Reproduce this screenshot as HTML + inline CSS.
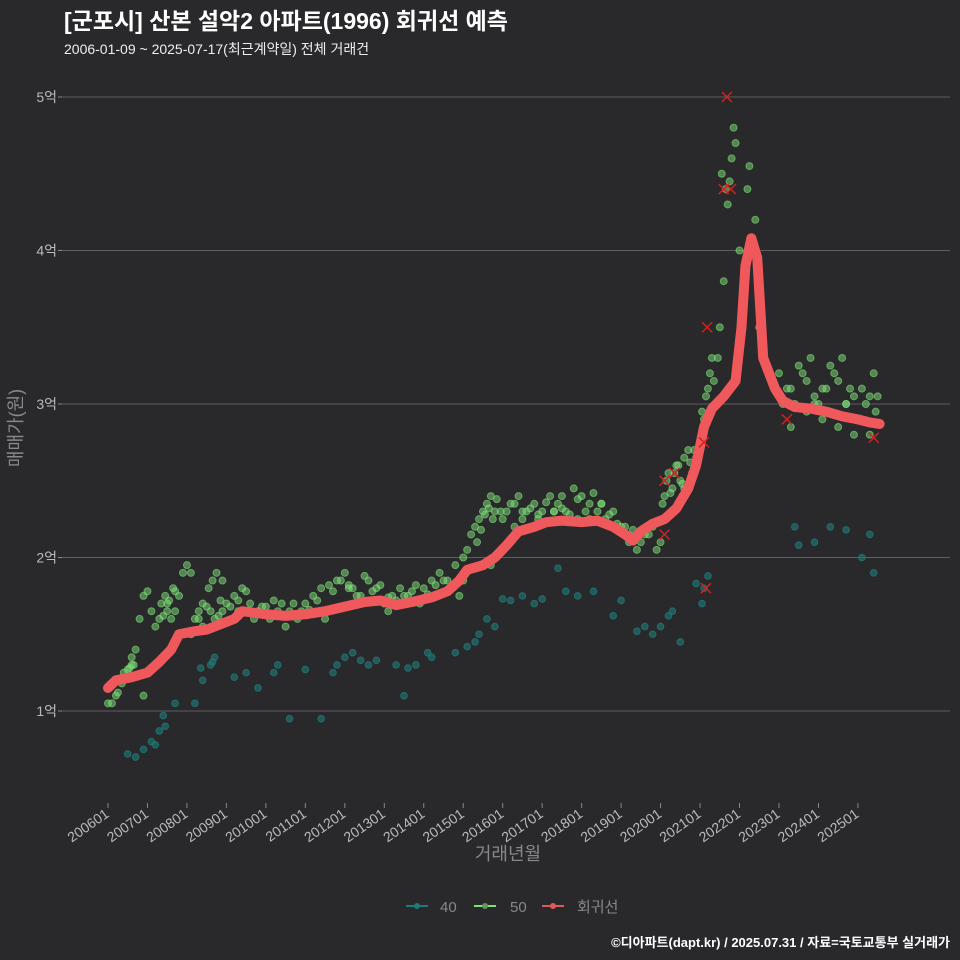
<!DOCTYPE html>
<html><head><meta charset="utf-8"><style>
body{margin:0;background:#29282a;}
svg{display:block;font-family:"Liberation Sans","Noto Sans CJK KR",sans-serif;}
</style></head><body>
<svg id="c" width="960" height="960">
<rect width="960" height="960" fill="#29282a"/>
<text x="64" y="29" fill="#fff" font-size="23" font-weight="bold">[군포시] 산본 설악2 아파트(1996) 회귀선 예측</text>
<text x="64" y="54" fill="#eee" font-size="14">2006-01-09 ~ 2025-07-17(최근계약일) 전체 거래건</text>
<g id="grid"></g><g id="pts"></g><g id="reg"></g><g id="xs"></g><g id="xax"></g>
<text transform="translate(22,428) rotate(-90)" text-anchor="middle" fill="#888" font-size="18">매매가(원)</text>
<text x="508" y="860" text-anchor="middle" fill="#888" font-size="18">거래년월</text>
<g>
<g><line x1="406" y1="906" x2="428" y2="906" stroke="#1f7a78" stroke-width="2"/><circle cx="417" cy="906" r="3" fill="#1f7a78"/><text x="440" y="912" fill="#888" font-size="15">40</text></g>
<g><line x1="474" y1="906" x2="496" y2="906" stroke="#7ee07a" stroke-width="2"/><circle cx="485" cy="906" r="3" fill="#5f9a5a"/><text x="510" y="912" fill="#888" font-size="15">50</text></g>
<g><line x1="542" y1="906" x2="564" y2="906" stroke="#e05a5a" stroke-width="2"/><circle cx="553" cy="906" r="3" fill="#e05a5a"/><text x="577" y="912" fill="#888" font-size="15">회귀선</text></g>
</g>
<text x="950" y="947" text-anchor="end" fill="#fff" font-size="13" font-weight="bold">©디아파트(dapt.kr) / 2025.07.31 / 자료=국토교통부 실거래가</text>
</svg>
<script>
const yTicks=[1,2,3,4,5];
const xTickYears=[2006,2007,2008,2009,2010,2011,2012,2013,2014,2015,2016,2017,2018,2019,2020,2021,2022,2023,2024,2025];
const regT=[2006.0,2006.2,2006.6,2007.0,2007.3,2007.6,2007.8,2008.2,2008.5,2008.9,2009.2,2009.4,2010.0,2010.5,2011.0,2011.5,2012.0,2012.5,2012.9,2013.3,2013.7,2014.2,2014.6,2014.9,2015.1,2015.5,2015.8,2016.1,2016.4,2016.8,2017.1,2017.5,2018.0,2018.4,2018.8,2019.1,2019.3,2019.5,2019.8,2020.1,2020.4,2020.7,2020.9,2021.1,2021.3,2021.6,2021.9,2022.05,2022.15,2022.3,2022.45,2022.6,2022.9,2023.1,2023.4,2023.8,2024.2,2024.6,2025.0,2025.3,2025.55];
const regV=[1.15,1.2,1.22,1.25,1.32,1.4,1.5,1.52,1.53,1.57,1.6,1.65,1.63,1.62,1.63,1.65,1.68,1.71,1.72,1.69,1.71,1.74,1.78,1.85,1.92,1.95,2.0,2.08,2.17,2.2,2.23,2.24,2.23,2.24,2.2,2.15,2.11,2.17,2.22,2.25,2.32,2.45,2.6,2.85,2.97,3.05,3.15,3.5,3.9,4.08,3.95,3.3,3.1,3.02,2.98,2.97,2.95,2.92,2.9,2.88,2.87];
const t40=[2006.5,2006.7,2006.9,2007.1,2007.3,2007.4,2007.7,2008.2,2008.4,2008.6,2008.7,2009.5,2009.8,2010.3,2010.6,2011.0,2011.4,2011.7,2012.0,2012.4,2012.8,2013.3,2013.5,2013.8,2014.2,2014.8,2015.1,2015.4,2015.6,2016.0,2016.5,2017.0,2017.4,2017.9,2018.3,2019.0,2019.4,2019.8,2020.0,2020.3,2020.5,2020.9,2021.1,2021.2,2023.4,2023.5,2023.9,2024.3,2024.7,2025.1,2025.3,2025.4,2007.2,2007.45,2008.35,2008.65,2009.2,2010.2,2011.8,2012.2,2012.6,2013.6,2014.1,2015.3,2015.8,2016.2,2016.8,2017.6,2018.8,2019.6,2020.2,2021.05];
const v40=[0.72,0.7,0.75,0.8,0.87,0.97,1.05,1.05,1.2,1.3,1.35,1.25,1.15,1.3,0.95,1.27,0.95,1.25,1.35,1.33,1.33,1.3,1.1,1.3,1.35,1.38,1.42,1.5,1.6,1.73,1.75,1.73,1.93,1.75,1.78,1.72,1.52,1.5,1.55,1.65,1.45,1.83,1.8,1.88,2.2,2.08,2.1,2.2,2.18,2.0,2.15,1.9,0.78,0.9,1.28,1.32,1.22,1.25,1.3,1.38,1.3,1.28,1.38,1.45,1.55,1.72,1.7,1.78,1.62,1.55,1.62,1.7];
const t50=[2006.1,2006.2,2006.3,2006.4,2006.5,2006.6,2006.7,2006.8,2006.9,2007.0,2007.1,2007.2,2007.3,2007.4,2007.5,2007.6,2007.7,2007.8,2007.9,2008.0,2008.1,2008.2,2008.3,2008.4,2008.5,2008.6,2008.7,2008.8,2008.9,2009.0,2009.2,2009.4,2009.6,2009.8,2010.0,2010.2,2010.4,2010.6,2010.8,2011.0,2011.2,2011.4,2011.6,2011.8,2012.0,2012.2,2012.4,2012.6,2012.8,2013.0,2013.2,2013.4,2013.6,2013.8,2014.0,2014.2,2014.4,2014.6,2014.8,2015.0,2015.1,2015.2,2015.3,2015.4,2015.5,2015.6,2015.7,2015.8,2016.0,2016.2,2016.4,2016.6,2016.8,2017.0,2017.2,2017.4,2017.6,2017.8,2018.0,2018.2,2018.4,2018.6,2018.8,2019.0,2019.2,2019.4,2019.6,2019.8,2020.0,2020.1,2020.2,2020.3,2020.4,2020.5,2020.6,2020.7,2020.8,2020.9,2021.0,2021.1,2021.2,2021.3,2021.4,2021.5,2021.6,2021.7,2021.8,2021.9,2022.0,2022.2,2022.4,2023.0,2023.2,2023.4,2023.6,2023.8,2024.0,2024.2,2024.4,2024.6,2024.8,2025.0,2025.2,2025.4,2006.3,2006.6,2006.9,2007.2,2007.5,2008.1,2008.4,2008.9,2009.3,2010.1,2010.9,2011.5,2012.3,2013.1,2013.9,2014.5,2015.7,2016.3,2016.9,2017.3,2017.9,2018.5,2019.1,2019.7,2020.6,2021.45,2021.65,2021.85,2022.5,2023.3,2023.7,2024.1,2024.5,2024.9,2025.3,2006.0,2007.65,2008.3,2009.7,2010.5,2012.1,2013.5,2014.9,2016.5,2017.5,2018.2,2019.5,2021.55,2021.75,2022.25,2023.9,2024.7,2025.5,
2006.25,2006.35,2006.45,2006.55,2006.65,2007.35,2007.45,2007.55,2007.7,2008.55,2008.65,2008.75,2008.85,2009.1,2009.3,2009.5,2009.9,2010.3,2010.7,2011.1,2011.3,2011.7,2011.9,2012.1,2012.5,2012.7,2012.9,2013.1,2013.3,2013.7,2014.1,2014.3,2014.7,2015.0,2015.35,2015.45,2015.55,2015.65,2015.75,2015.85,2015.95,2016.1,2016.3,2016.5,2016.7,2016.9,2017.1,2017.3,2017.5,2017.7,2017.9,2018.1,2018.3,2018.5,2018.7,2018.9,2019.3,2019.9,2020.05,2020.15,2020.25,2020.35,2020.45,2020.55,2020.75,2020.85,2021.05,2021.15,2021.25,2021.35,2023.1,2023.3,2023.5,2023.7,2023.9,2024.1,2024.3,2024.5,2024.7,2024.9,2025.1,2025.3,2025.45];
const v50=[1.05,1.1,1.2,1.25,1.27,1.3,1.4,1.6,1.75,1.78,1.65,1.55,1.6,1.62,1.65,1.6,1.65,1.75,1.9,1.95,1.9,1.6,1.65,1.7,1.68,1.65,1.6,1.62,1.65,1.7,1.75,1.8,1.7,1.65,1.68,1.72,1.7,1.65,1.6,1.7,1.75,1.8,1.82,1.85,1.9,1.8,1.75,1.85,1.8,1.7,1.75,1.8,1.75,1.82,1.8,1.85,1.9,1.85,1.95,2.0,2.05,2.15,2.2,2.25,2.3,2.35,2.4,2.3,2.25,2.35,2.4,2.3,2.35,2.3,2.4,2.35,2.3,2.45,2.4,2.35,2.3,2.25,2.3,2.2,2.1,2.05,2.15,2.2,2.1,2.4,2.55,2.45,2.6,2.5,2.65,2.7,2.55,2.65,2.75,2.9,3.1,3.3,3.0,3.5,3.8,4.3,4.6,4.7,4.0,4.4,4.2,3.2,3.1,3.0,3.2,3.3,3.0,3.1,3.2,3.3,3.1,2.9,3.0,3.2,1.2,1.35,1.1,1.3,1.7,1.5,1.55,1.85,1.65,1.6,1.65,1.6,1.75,1.65,1.7,1.85,1.95,2.2,2.25,2.3,2.25,2.35,2.2,2.15,2.45,3.3,4.4,4.8,3.5,2.85,2.95,2.9,2.85,2.8,2.8,1.05,1.8,1.6,1.6,1.55,1.8,1.75,1.75,2.3,2.4,2.25,2.1,4.5,4.45,4.55,3.0,3.0,3.05,
1.12,1.18,1.22,1.28,1.3,1.7,1.75,1.72,1.78,1.8,1.85,1.9,1.72,1.68,1.72,1.78,1.68,1.65,1.7,1.66,1.72,1.78,1.85,1.82,1.88,1.78,1.82,1.74,1.72,1.78,1.76,1.82,1.8,1.85,2.1,2.18,2.28,2.32,2.25,2.38,2.3,2.3,2.35,2.25,2.32,2.28,2.36,2.3,2.32,2.28,2.38,2.3,2.42,2.35,2.28,2.22,2.18,2.05,2.35,2.5,2.42,2.55,2.6,2.48,2.62,2.7,2.95,3.05,3.2,3.15,3.0,3.1,3.25,3.15,3.05,3.1,3.25,3.15,3.0,3.05,3.1,3.05,2.95];
const tX=[2021.68,2021.6,2021.78,2021.18,2020.1,2020.35,2020.1,2021.15,2021.1,2023.2,2025.4];
const vX=[5.0,4.4,4.4,3.5,2.5,2.55,2.15,1.8,2.75,2.9,2.78];

const X0=108,PY=39.47,L=62,R=950;
const xs=t=>X0+(t-2006)*PY;
const ys=v=>711-(v-1)*153.5;
const NS="http://www.w3.org/2000/svg";
function mk(tag,attrs,parent){const e=document.createElementNS(NS,tag);for(const k in attrs)e.setAttribute(k,attrs[k]);document.getElementById(parent).appendChild(e);return e;}
yTicks.forEach(v=>{
  const l=mk('line',{x1:L,x2:R,y1:ys(v),y2:ys(v),stroke:'#5e5d5f','stroke-width':1},'grid');
  
  
  const tk=mk('line',{x1:L-4,x2:L,y1:ys(v),y2:ys(v),stroke:'#888'},'grid');
  
  
  const t=mk('text',{x:L-5,y:ys(v)+5,'text-anchor':'end',fill:'#bbb','font-size':14},'grid');
  t.textContent=v+'억';
  
  
});
xTickYears.forEach(y=>{
  const x=xs(y);
  const tk=mk('line',{x1:x,x2:x,y1:803,y2:808,stroke:'#888'},'xax');
  
  
  const t=mk('text',{x:x+2,y:816,'text-anchor':'end',fill:'#bbb','font-size':14,transform:`rotate(-35 ${x+2} 816)`},'xax');
  t.textContent=y+'01';
  
  
});
t40.forEach((t,i)=>{
  const c=mk('circle',{cx:xs(t),cy:ys(v40[i]),r:3.3,fill:'#1f7a78','fill-opacity':0.6,stroke:'#1f7a78','stroke-opacity':0.8},'pts');
  
  
});
t50.forEach((t,i)=>{
  const c=mk('circle',{cx:xs(t),cy:ys(v50[i]),r:3.5,fill:'#7ee07a','fill-opacity':0.5,stroke:'#7ee07a','stroke-opacity':0.6},'pts');
  
  
});
const p=mk('polyline',{points:regT.map((t,i)=>xs(t)+','+ys(regV[i])).join(' '),fill:'none',stroke:'#f0595c','stroke-width':10,'stroke-linejoin':'round','stroke-linecap':'round'},'reg');


tX.forEach((t,i)=>{
  const x=xs(t),y=ys(vX[i]);
  const g=mk('path',{d:`M${x-5} ${y-5}L${x+5} ${y+5}M${x+5} ${y-5}L${x-5} ${y+5}`,stroke:'#d42020','stroke-width':1.5},'xs');
  
  
});
</script>
</body></html>
